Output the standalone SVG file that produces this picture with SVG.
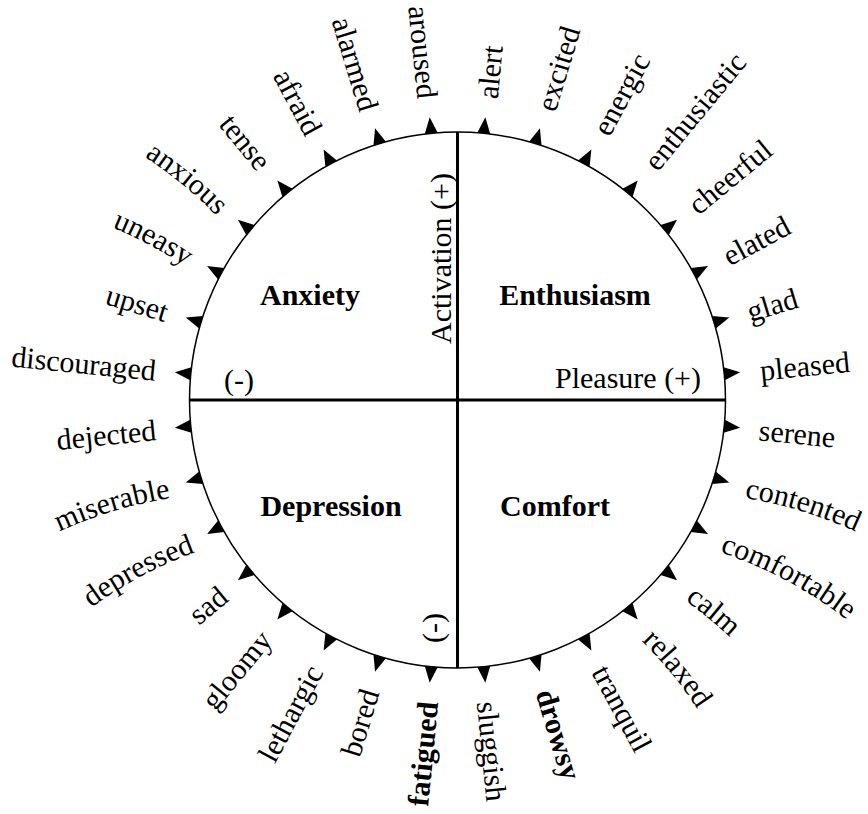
<svg xmlns="http://www.w3.org/2000/svg" xmlns:xlink="http://www.w3.org/1999/xlink" width="868" height="814" viewBox="0 0 868 814">
  <style>
    text { font-family: "Liberation Serif", "Times New Roman", serif; font-size: 30px; fill: #000; }
    .b { font-weight: bold; }
    .r { text-anchor: start; }
    .l { text-anchor: end; }
    .m { text-anchor: middle; }
    .ring { fill: none; stroke: #000; stroke-width: 1.5; }
    .axis { stroke: #000; stroke-width: 3; }
  </style>
  <defs>
    <!-- outward-pointing tick marker sitting on the ring (radius 268) -->
    <path id="tri" d="M268,-6.5 L284,0 L268,6.5 Z" fill="#000"/>
    <!-- gently bowed baselines for the arched words (local, radial frame) -->
    <path id="arc-contented" d="M303,10.5 A420,420 0 0 1 420,10.5"/>
    <path id="arc-comfortable" d="M303,10.5 A420,420 0 0 1 448,10.5"/>
    <path id="arc-calm" d="M303,10.5 A420,420 0 0 1 361,10.5"/>
    <path id="arc-relaxed" d="M303,10.5 A420,420 0 0 1 391,10.5"/>
    <path id="arc-miserable" d="M-420,10.5 A420,420 0 0 1 -303,10.5"/>
    <path id="arc-depressed" d="M-421,10.5 A420,420 0 0 1 -303,10.5"/>
    <path id="arc-uneasy" d="M-386,10.5 A420,420 0 0 1 -303,10.5"/>
    <path id="arc-anxious" d="M-396,10.5 A420,420 0 0 1 -303,10.5"/>
  </defs>
  <rect width="868" height="814" fill="#fff"/>

  <!-- ring and axes -->
  <circle class="ring" cx="457.5" cy="400" r="268"/>
  <line class="axis" x1="190" y1="400" x2="725" y2="400"/>
  <line class="axis" x1="457.5" y1="132" x2="457.5" y2="668"/>

  <!-- ticks every 11.25 degrees, offset by half a step -->
  <g id="ticks" transform="translate(457.5,400)">
    <use xlink:href="#tri" transform="rotate(-5.625)"/>
    <use xlink:href="#tri" transform="rotate(-16.875)"/>
    <use xlink:href="#tri" transform="rotate(-28.125)"/>
    <use xlink:href="#tri" transform="rotate(-39.375)"/>
    <use xlink:href="#tri" transform="rotate(-50.625)"/>
    <use xlink:href="#tri" transform="rotate(-61.875)"/>
    <use xlink:href="#tri" transform="rotate(-73.125)"/>
    <use xlink:href="#tri" transform="rotate(-84.375)"/>
    <use xlink:href="#tri" transform="rotate(-95.625)"/>
    <use xlink:href="#tri" transform="rotate(-106.875)"/>
    <use xlink:href="#tri" transform="rotate(-118.125)"/>
    <use xlink:href="#tri" transform="rotate(-129.375)"/>
    <use xlink:href="#tri" transform="rotate(-140.625)"/>
    <use xlink:href="#tri" transform="rotate(-151.875)"/>
    <use xlink:href="#tri" transform="rotate(-163.125)"/>
    <use xlink:href="#tri" transform="rotate(-174.375)"/>
    <use xlink:href="#tri" transform="rotate(5.625)"/>
    <use xlink:href="#tri" transform="rotate(16.875)"/>
    <use xlink:href="#tri" transform="rotate(28.125)"/>
    <use xlink:href="#tri" transform="rotate(39.375)"/>
    <use xlink:href="#tri" transform="rotate(50.625)"/>
    <use xlink:href="#tri" transform="rotate(61.875)"/>
    <use xlink:href="#tri" transform="rotate(73.125)"/>
    <use xlink:href="#tri" transform="rotate(84.375)"/>
    <use xlink:href="#tri" transform="rotate(95.625)"/>
    <use xlink:href="#tri" transform="rotate(106.875)"/>
    <use xlink:href="#tri" transform="rotate(118.125)"/>
    <use xlink:href="#tri" transform="rotate(129.375)"/>
    <use xlink:href="#tri" transform="rotate(140.625)"/>
    <use xlink:href="#tri" transform="rotate(151.875)"/>
    <use xlink:href="#tri" transform="rotate(163.125)"/>
    <use xlink:href="#tri" transform="rotate(174.375)"/>
  </g>

  <!-- affect words around the ring -->
  <g id="words" transform="translate(457.5,400)">
    <!-- right half: read outward -->
    <text class="r" transform="rotate(-84.375) translate(303,0)" dy="0.35em">alert</text>
    <text class="r" transform="rotate(-73.125) translate(303,0)" dy="0.35em">excited</text>
    <text class="r" transform="rotate(-61.875) translate(303,0)" dy="0.35em">energic</text>
    <text class="r" transform="rotate(-50.625) translate(303,0)" dy="0.35em">enthusiastic</text>
    <text class="r" transform="rotate(-39.375) translate(303,0)" dy="0.35em">cheerful</text>
    <text class="r" transform="rotate(-28.125) translate(303,0)" dy="0.35em">elated</text>
    <text class="r" transform="rotate(-16.875) translate(303,0)" dy="0.35em">glad</text>
    <text class="r" transform="rotate(-5.625) translate(304,0)" dy="0.35em">pleased</text>
    <text class="r" transform="rotate(5.625) translate(303,0)" dy="0.35em">serene</text>
    <text class="r" transform="rotate(16.875)"><textPath xlink:href="#arc-contented">contented</textPath></text>
    <text class="r" transform="rotate(28.125)"><textPath xlink:href="#arc-comfortable">comfortable</textPath></text>
    <text class="r" transform="rotate(39.375)"><textPath xlink:href="#arc-calm">calm</textPath></text>
    <text class="r" transform="rotate(50.625)"><textPath xlink:href="#arc-relaxed">relaxed</textPath></text>
    <text class="r" transform="rotate(61.875) translate(303,0)" dy="0.35em">tranquil</text>
    <text class="r b" transform="rotate(73.125) translate(303,0)" dy="0.35em">drowsy</text>
    <text class="r" transform="rotate(84.375) translate(303,0)" dy="0.35em">sluggish</text>
    <!-- left half: read inward -->
    <text class="l b" transform="rotate(-84.375) translate(-303,0)" dy="0.35em">fatigued</text>
    <text class="l" transform="rotate(-73.125) translate(-303,0)" dy="0.35em">bored</text>
    <text class="l" transform="rotate(-61.875) translate(-303,0)" dy="0.35em">lethargic</text>
    <text class="l" transform="rotate(-50.625) translate(-303,0)" dy="0.35em">gloomy</text>
    <text class="l" transform="rotate(-39.375) translate(-303,0)" dy="0.35em">sad</text>
    <text class="l" transform="rotate(-28.125)"><textPath xlink:href="#arc-depressed" startOffset="100%">depressed</textPath></text>
    <text class="l" transform="rotate(-16.875)"><textPath xlink:href="#arc-miserable" startOffset="100%">miserable</textPath></text>
    <text class="l" transform="rotate(-5.625) translate(-303,0)" dy="0.35em">dejected</text>
    <text class="l" transform="rotate(5.625) translate(-303,0)" dy="0.35em">discouraged</text>
    <text class="l" transform="rotate(16.875) translate(-303,0)" dy="0.35em">upset</text>
    <text class="l" transform="rotate(28.125)"><textPath xlink:href="#arc-uneasy" startOffset="100%">uneasy</textPath></text>
    <text class="l" transform="rotate(39.375)"><textPath xlink:href="#arc-anxious" startOffset="100%">anxious</textPath></text>
    <text class="l" transform="rotate(50.625) translate(-303,0)" dy="0.35em">tense</text>
    <text class="l" transform="rotate(61.875) translate(-303,0)" dy="0.35em">afraid</text>
    <text class="l" transform="rotate(73.125) translate(-303,0)" dy="0.35em">alarmed</text>
    <text class="l" transform="rotate(84.375) translate(-303,0)" dy="0.35em">aroused</text>
  </g>

  <!-- axis labels -->
  <g id="axis-labels">
    <text class="m" transform="translate(451,258.5) rotate(-90)">Activation (+)</text>
    <text class="r" x="555" y="388">Pleasure (+)</text>
    <text class="r" x="224" y="390">(-)</text>
    <text class="m" transform="translate(443,628) rotate(-90)">(-)</text>
  </g>

  <!-- quadrant names -->
  <g id="quadrants">
    <text class="m b" x="310" y="305">Anxiety</text>
    <text class="m b" x="575" y="305">Enthusiasm</text>
    <text class="m b" x="331" y="516">Depression</text>
    <text class="m b" x="555" y="516">Comfort</text>
  </g>
</svg>
